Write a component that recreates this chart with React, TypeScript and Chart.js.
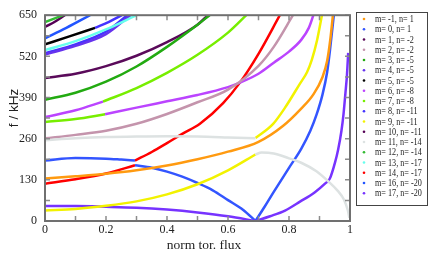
import { useEffect, useRef } from 'react';
import { Chart, registerables } from 'chart.js';
Chart.register(...registerables);

const xTickLabels = ['0', '0.2', '0.4', '0.6', '0.8', '1'];
const yTickLabels = [0, 130, 260, 390, 520, 650];

const legendLabels = [
  'm= -1, n= 1', 'm= 0, n= 1', 'm= 1, n= -2', 'm= 2, n= -2', 'm= 3, n= -5', 'm= 4, n= -5',
  'm= 5, n= -5', 'm= 6, n= -8', 'm= 7, n= -8', 'm= 8, n= -11', 'm= 9, n= -11', 'm= 10, n= -11',
  'm= 11, n= -14', 'm= 12, n= -14', 'm= 13, n= -17', 'm= 14, n= -17', 'm= 16, n= -20', 'm= 17, n= -20',
];
const legendColors = [
  '#ff9a10', '#3355ff', '#5a0a5a', '#c494ac', '#22aa11', '#6633ee',
  '#000000', '#bb44ff', '#77ee00', '#4433ff', '#f2f200', '#550055',
  '#dde2e2', '#33bb33', '#66ffee', '#ff0000', '#2255ff', '#7733ff',
];

// m=-1, n=1 (orange)
const orangeX = [0, 0.1, 0.2, 0.3, 0.4, 0.5, 0.6, 0.7, 0.78, 0.84, 0.88, 0.91, 0.925, 0.935, 0.944];
const orangeF = [134, 141, 149, 160, 175, 195, 219, 250, 300, 355, 400, 455, 505, 570, 650];
// m=0, n=1 (blue) three branches
const blueFlatX = [0, 0.1, 0.2, 0.25, 0.295];
const blueFlatF = [191, 199, 197, 194, 191];
const blueDownX = [0.295, 0.35, 0.4, 0.45, 0.5, 0.55, 0.6, 0.65, 0.69];
const blueDownF = [176, 168, 156, 140, 120, 97, 66, 35, 0];
const blueUpX = [0.69, 0.72, 0.75, 0.8, 0.84, 0.87, 0.89, 0.91, 0.925, 0.935, 0.947];
const blueUpF = [0, 45, 92, 168, 228, 285, 335, 400, 470, 545, 650];
// m=14, n=-17 (red)
const redLowX = [0, 0.1, 0.2, 0.295];
const redLowF = [118, 132, 150, 176];
const redHighX = [0.295, 0.35, 0.4, 0.45, 0.508, 0.584, 0.639, 0.7, 0.77];
const redHighF = [191, 218, 246, 275, 307, 372, 437, 528, 650];
// m=11, n=-14 (grey)
const greyTopX = [0, 0.1, 0.2, 0.3, 0.4, 0.5, 0.6, 0.69];
const greyTopF = [255, 261, 265, 267, 268, 267, 264, 261];
const greyLowX = [0.69, 0.71, 0.75, 0.8, 0.84, 0.89, 0.93, 0.96, 0.98, 0.993, 0.998];
const greyLowF = [210, 216, 213, 198, 184, 157, 124, 95, 68, 33, 10];
// m=9, n=-11 (yellow)
const yellowLowX = [0, 0.1, 0.2, 0.3, 0.4, 0.5, 0.6, 0.69];
const yellowLowF = [33, 38, 48, 62, 84, 116, 160, 210];
const yellowHighX = [0.69, 0.748, 0.787, 0.836, 0.859, 0.875, 0.892, 0.908];
const yellowHighF = [262, 307, 358, 434, 470, 510, 571, 650];
// m=2, n=-2 (mauve)
const mauveX = [0, 0.1, 0.2, 0.3, 0.4, 0.5, 0.6, 0.7, 0.75, 0.813];
const mauveF = [261, 272, 285, 307, 338, 375, 415, 490, 550, 650];
// m=6, n=-8 (magenta)
const magentaAX = [0, 0.1, 0.19];
const magentaAF = [328, 350, 377];
const magentaBX = [0.197, 0.3, 0.4, 0.5, 0.6, 0.639, 0.7, 0.75, 0.8, 0.84, 0.865, 0.88];
const magentaBF = [337, 358, 378, 398, 423, 437, 465, 500, 535, 572, 610, 650];
// m=7, n=-8 (light green)
const limeAX = [0, 0.1, 0.197];
const limeAF = [313, 322, 337];
const limeBX = [0.19, 0.3, 0.4, 0.5, 0.6, 0.66];
const limeBF = [377, 420, 468, 525, 595, 650];
// m=3, n=-5 (green)
const greenX = [0, 0.1, 0.2, 0.3, 0.4, 0.5, 0.54];
const greenF = [383, 405, 440, 488, 550, 620, 650];
// m=1, n=-2 (dark purple)
const plumX = [0, 0.1, 0.2, 0.3, 0.4, 0.5, 0.534];
const plumF = [452, 465, 489, 522, 565, 620, 650];
// upper-left cluster
const green12X = [0, 0.03, 0.06];
const green12F = [628, 639, 650];
const plum10X = [0, 0.035, 0.065];
const plum10F = [613, 631, 650];
const blue16X = [0, 0.07, 0.148];
const blue16F = [577, 610, 650];
const blackX = [0, 0.08, 0.164];
const blackF = [558, 583, 610];
const blue8AX = [0.164, 0.21, 0.252];
const blue8AF = [610, 629, 650];
const cyanX = [0, 0.1, 0.2, 0.3];
const cyanF = [540, 568, 605, 650];
const blue8BX = [0, 0.1, 0.2, 0.27];
const blue8BF = [530, 558, 598, 650];
const violet4BX = [0, 0.1, 0.2, 0.28];
const violet4BF = [526, 553, 590, 650];
// violet low branches
const violetLeftX = [0, 0.1, 0.2, 0.3, 0.4, 0.5, 0.6, 0.69];
const violetLeftF = [47, 47, 45, 42, 36, 27, 15, 0];
const violetRightX = [0.69, 0.738, 0.787, 0.836, 0.885, 0.918, 0.934, 0.951, 0.961, 0.972, 0.979, 0.985, 0.99, 0.994];
const violetRightF = [0, 15, 33, 61, 91, 118, 134, 185, 225, 285, 340, 404, 460, 531];

const segments: [number, number[], number[]][] = [
  [12, greyTopX, greyTopF], [12, greyLowX, greyLowF],
  [3, mauveX, mauveF],
  [4, greenX, greenF], [2, plumX, plumF],
  [13, green12X, green12F], [11, plum10X, plum10F],
  [14, cyanX, cyanF], [5, violet4BX, violet4BF], [9, blue8BX, blue8BF],
  [6, blackX, blackF], [9, blue8AX, blue8AF], [16, blue16X, blue16F],
  [7, magentaAX, magentaAF], [7, magentaBX, magentaBF],
  [8, limeAX, limeAF], [8, limeBX, limeBF],
  [10, yellowLowX, yellowLowF], [10, yellowHighX, yellowHighF],
  [0, orangeX, orangeF],
  [17, violetLeftX, violetLeftF], [17, violetRightX, violetRightF],
  [1, blueFlatX, blueFlatF], [1, blueDownX, blueDownF], [1, blueUpX, blueUpF],
  [15, redLowX, redLowF], [15, redHighX, redHighF],
];

const decorPlugin = {
  id: 'decor',
  afterDatasetsDraw(chart: any) {
    const { ctx, chartArea, scales } = chart;
    const { left, right, top, bottom } = chartArea;
    const xs = scales.x, ys = scales.y;
    ctx.save();
    ctx.strokeStyle = '#8c8c8c';
    ctx.lineWidth = 1.5;
    ctx.beginPath();
    xs.ticks.forEach((t: any) => {
      const p = xs.getPixelForValue(t.value);
      ctx.moveTo(p, bottom); ctx.lineTo(p, bottom - 5);
      ctx.moveTo(p, top); ctx.lineTo(p, top + 5);
    });
    ys.ticks.forEach((t: any) => {
      const p = ys.getPixelForValue(t.value);
      ctx.moveTo(left, p); ctx.lineTo(left + 5, p);
      ctx.moveTo(right, p); ctx.lineTo(right - 5, p);
    });
    ctx.stroke();
    ctx.strokeStyle = '#707070';
    ctx.lineWidth = 2;
    ctx.strokeRect(left, top, right - left, bottom - top);
    ctx.restore();
  },
  afterDraw(chart: any) {
    const { ctx } = chart;
    ctx.save();
    ctx.fillStyle = '#222';
    ctx.font = '13.5px "Liberation Serif", serif';
    ctx.textAlign = 'center';
    ctx.textBaseline = 'middle';
    ctx.fillText('norm tor. flux', 204, 245);
    ctx.save();
    ctx.translate(14, 108);
    ctx.rotate(-Math.PI / 2);
    ctx.font = '13.5px "Liberation Sans", sans-serif';
    ctx.fillText('f / kHz', 0, 0);
    ctx.restore();
    // legend
    ctx.strokeStyle = '#444';
    ctx.lineWidth = 1;
    ctx.strokeRect(356.5, 12.5, 71, 193);
    ctx.font = '9.5px "Liberation Serif", serif';
    ctx.textAlign = 'left';
    legendLabels.forEach((lab, i) => {
      const yy = 19 + i * 10.25;
      ctx.fillStyle = legendColors[i];
      ctx.beginPath();
      ctx.arc(364, yy, 1.3, 0, Math.PI * 2);
      ctx.fill();
      ctx.fillStyle = '#222';
      ctx.save();
      ctx.translate(375, yy + 0.5);
      ctx.scale(0.86, 1);
      ctx.fillText(lab, 0, 0);
      ctx.restore();
    });
    ctx.restore();
  },
};

export default function App() {
  const ref = useRef<HTMLCanvasElement>(null);
  useEffect(() => {
    document.body.style.margin = '0';
    const datasets = segments.map(([li, xs, fs]) => ({
      label: legendLabels[li],
      data: xs.map((x, i) => ({ x, y: fs[i] })),
      showLine: true,
      borderColor: legendColors[li],
      backgroundColor: legendColors[li],
      borderWidth: 2.5,
      pointRadius: 0,
      cubicInterpolationMode: 'monotone' as const,
    }));
    const chart = new Chart(ref.current!, {
      type: 'scatter',
      data: { datasets },
      options: {
        animation: false,
        responsive: false,
        layout: { padding: { top: 7, right: 86, left: 0, bottom: 0 } },
        plugins: { legend: { display: false }, tooltip: { enabled: false } },
        scales: {
          x: {
            type: 'linear', min: 0, max: 1,
            grid: { display: false, drawTicks: false },
            border: { display: false },
            afterFit: (s: any) => { s.height = 37; },
            ticks: {
              stepSize: 0.1, autoSkip: false, maxRotation: 0, padding: 2,
              color: '#222',
              font: { family: '"Liberation Serif", serif', size: 12 },
              callback: (v: any) => {
                const r = Math.round(Number(v) * 10);
                return r % 2 === 0 ? xTickLabels[r / 2] : '';
              },
            },
          },
          y: {
            type: 'linear', min: 0, max: 650,
            grid: { display: false, drawTicks: false },
            border: { display: false },
            afterFit: (s: any) => { s.width = 45; },
            ticks: {
              stepSize: 65, autoSkip: false, padding: 8,
              color: '#222',
              font: { family: '"Liberation Serif", serif', size: 12 },
              callback: (v: any) => (yTickLabels.includes(Number(v)) ? String(v) : ''),
            },
          },
        },
      },
      plugins: [decorPlugin],
    });
    return () => chart.destroy();
  }, []);
  return <canvas ref={ref} width={436} height={258} style={{ display: 'block' }} />;
}
